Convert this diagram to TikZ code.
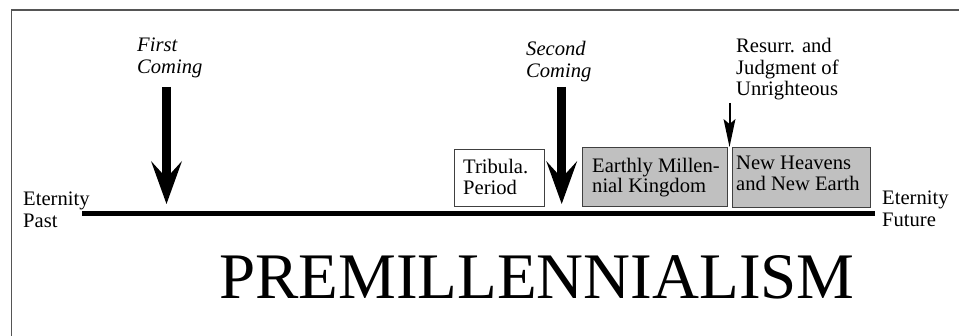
\documentclass[tikz,border=0pt]{standalone}
\usepackage{fontspec}
\setmainfont{Liberation Serif}
\usetikzlibrary{arrows.meta}
\definecolor{framegray}{HTML}{555555}
\definecolor{boxgray}{HTML}{C0C0C0}
\definecolor{boxline}{HTML}{404040}
\newcommand{\stackl}[1]{\begin{tabular}[t]{@{}l@{}}#1\end{tabular}}
\begin{document}
\begin{tikzpicture}[x=1pt,y=-1pt,
  lbl/.style={inner sep=0pt, anchor=base west, font=\fontsize{20.6}{21.5}\selectfont},
  ilbl/.style={inner sep=0pt, anchor=base west, font=\fontsize{20.6}{21.5}\selectfont\itshape},
  boxtxt/.style={inner sep=0pt, anchor=base west, font=\fontsize{20.6}{20}\selectfont},
  period/.style={draw=boxline, line width=1pt, inner sep=0pt, anchor=north west},
  gperiod/.style={period, fill=boxgray},
  wperiod/.style={period, fill=white},
  bigarrow/.style={line width=9.5pt, -{Stealth[length=43pt,width=31pt,inset=17pt,line width=0pt]}},
  smallarrow/.style={line width=2pt, -{Stealth[length=28pt,width=12pt,inset=5pt,line width=0pt]}},
  timeline/.style={line width=5.5pt},
  framestyle/.style={draw=framegray, line width=1.5pt}
]
\useasboundingbox (0,0) rectangle (959,336);
% frame
\draw[framestyle] (11.5,336) -- (11.5,10) -- (959,10);

% timeline
\coordinate (tlstart) at (82,213.5);
\coordinate (tlend) at (875,213.5);
\draw[timeline] (tlstart) -- (tlend);

\node[lbl] (epast) at (23,206) {\stackl{Eternity\\Past}};
\node[lbl] (efut) at (882,205) {\stackl{Eternity\\Future}};

% period boxes
\node[wperiod, minimum width=90pt, minimum height=57pt] (trib) at (454,149) {};
\node[gperiod, minimum width=145pt, minimum height=59pt] (mill) at (582,147) {};
\node[gperiod, minimum width=138pt, minimum height=60pt] (newh) at (732,147) {};
\node[boxtxt] (tribt) at (463,174) {\stackl{Tribula.\\Period}};
\node[boxtxt] (millt) at (592,172.7) {\stackl{Earthly Millen-\\nial Kingdom}};
\node[boxtxt] (newht) at (736,170) {\stackl{New Heavens\\and New Earth}};

% labels
\node[ilbl] (first) at (137,52) {\stackl{First\\Coming}};
\node[ilbl] (second) at (526,56) {\stackl{Second\\Coming}};
\node[lbl] (resurr) at (736,52.7) {\stackl{Resurr. and\\Judgment of\\Unrighteous}};

% arrows
\coordinate (fcA) at (166.5,87);
\coordinate (fcB) at (166.5,204);
\coordinate (scA) at (561.7,87);
\coordinate (scB) at (561.7,204);
\coordinate (rjA) at (729.5,103);
\coordinate (rjB) at (729.5,147);
\draw[bigarrow] (fcA) -- (fcB);
\draw[bigarrow] (scA) -- (scB);
\draw[smallarrow] (rjA) -- (rjB);

% title
\node[inner sep=0pt, anchor=base west, font=\fontsize{65}{70}\selectfont] (title) at (219,298.3) {PREMILLENNIALISM};
\end{tikzpicture}
\end{document}
